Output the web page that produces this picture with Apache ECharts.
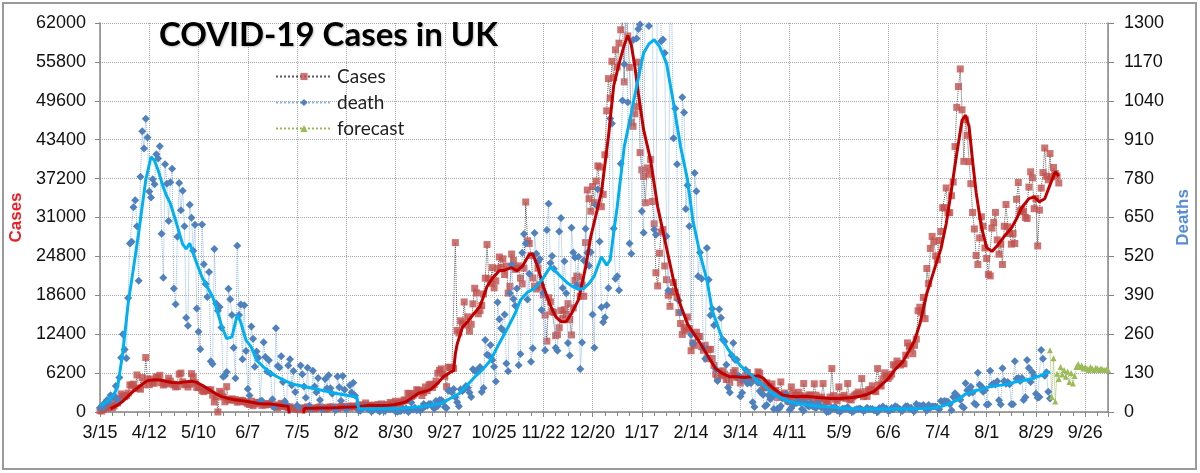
<!DOCTYPE html>
<html>
<head>
<meta charset="utf-8">
<script src="https://cdn.jsdelivr.net/npm/echarts@6/dist/echarts.min.js"></script>
<style>
  html, body {margin: 0; padding: 0; background: #fff;}
  #chart {width: 1200px; height: 473px;}
</style>
</head>
<body>
<div id="chart"></div>
<script>
// x is days since 3/15/2020, one tick label every 28 days
const xTickLabels = ['3/15', '4/12', '5/10', '6/7', '7/5', '8/2', '8/30', '9/27', '10/25', '11/22', '12/20',
  '1/17', '2/14', '3/14', '4/11', '5/9', '6/6', '7/4', '8/1', '8/29', '9/26'];

// daily cases from day 0 (one row = one week, Sun..Sat)
const cases = [
  232, 152, 407, 676, 643, 714, 1035,
  665, 967, 1427, 1452, 2129, 2885, 2546,
  2433, 2619, 3009, 4324, 4244, 4450, 3735,
  5903, 3802, 3634, 5491, 4344, 8681, 5233,
  4342, 5252, 4603, 4617, 5599, 5525, 5850,
  4676, 4301, 4451, 4583, 5386, 4913, 4463,
  4309, 3996, 4076, 6032, 6201, 4806, 4339,
  4406, 3985, 4406, 6111, 5614, 4649, 3896,
  3923, 3877, 3403, 3242, 3446, 3560, 3451,
  3534, 2684, 1600, 2472, 0, 3287, 2959,
  2405, 1625, 4043, 2004, 1887, 2095, 1936,
  1936, 1570, 1653, 1871, 1805, 1650, 1557,
  1326, 1205, 1741, 1003, 1266, 1541, 1425,
  1514, 1056, 1279, 1115, 1218, 1346, 1295,
  1221, 958, 874, 653, 1118, 1380, 890,
  901, 815, 689, 829, -29726, 544, 624,
  516, 352, 581, 630, 512, 642, 820,
  650, 530, 598, 538, 642, 687, 827,
  726, 580, 445, 560, 769, 767, 798,
  747, 685, 581, 763, 846, 880, 744,
  742, 938, 670, 892, 950, 871, 758,
  1062, 816, 1148, 1009, 1441, 1012, 1077,
  713, 1040, 1089, 812, 1182, 1033, 1288,
  1041, 853, 1184, 1048, 1522, 1276, 1108,
  1715, 1406, 1295, 1508, 1735, 1940, 1813,
  2988, 2948, 2460, 2659, 2919, 3539, 3497,
  3330, 2621, 3105, 3991, 3395, 4322, 4422,
  3899, 4368, 4926, 6178, 6634, 6874, 6042,
  5693, 4044, 7143, 7108, 6914, 6968, 27000,
  13000, 12594, 14542, 14162, 17540, 13864, 15166,
  12872, 13972, 17234, 19724, 18980, 15650, 16171,
  16982, 18804, 21331, 26688, 21242, 20530, 23012,
  19790, 20890, 22885, 24701, 23065, 24405, 21915,
  23254, 18950, 20018, 25177, 24141, 22726, 22950,
  23287, 21350, 20412, 22915, 33470, 27301, 26860,
  24962, 21363, 20051, 19609, 22915, 20252, 19875,
  18662, 15450, 11299, 18213, 17555, 16022, 15871,
  12155, 12330, 13430, 16170, 14879, 16298, 15539,
  17272, 14718, 12282, 16578, 20964, 21672, 21502,
  18447, 20263, 18450, 27000, 35383, 34000, 32000,
  35928, 33364, 36804, 39237, 39036, 32725, 34693,
  41000, 48000, 53135, 50023, 55892, 53285, 57725,
  54990, 58784, 60916, 62322, 52618, 68053, 59937,
  54940, 46169, 45533, 47525, 48682, 55761, 41346,
  38598, 37535, 33355, 38905, 37892, 40261, 33552,
  30004, 22195, 20089, 25308, 28680, 29079, 23275,
  21088, 18607, 16840, 19202, 20634, 19114, 18262,
  15845, 14104, 12364, 13494, 13013, 15144, 13308,
  9765, 10972, 10625, 12718, 12057, 12027, 10406,
  9834, 10641, 8489, 9938, 9985, 8523, 7434,
  6035, 5455, 6391, 5766, 6573, 6040, 5177,
  5177, 4712, 5766, 6297, 6609, 5534, 5534,
  4618, 5089, 5294, 5758, 6303, 4802, 5587,
  5312, 5342, 5379, 6397, 6187, 4715, 3862,
  3862, 4654, 4040, 4052, 4479, 3402, 3423,
  2297, 2762, 4790, 2589, 3030, 2729, 1730,
  1730, 3990, 2963, 2491, 2672, 3150, 2596,
  1882, 4530, 2396, 2396, 2729, 2678, 2026,
  4500, 2685, 2064, 2166, 2381, 4530, 1907,
  1671, 1649, 2379, 6920, 2613, 2047, 1770,
  3990, 2357, 2284, 2657, 2193, 4530, 2027,
  1926, 2412, 2696, 2874, 3180, 2829, 5330,
  2439, 3240, 2493, 3542, 3542, 4182, 3398,
  3240, 6920, 4330, 4134, 5274, 6238, 5765,
  5341, 5683, 6048, 7540, 7393, 8125, 7738,
  7490, 7742, 7673, 9055, 11007, 10476, 10321,
  9284, 10633, 11625, 16135, 16703, 15810, 18270,
  14876, 22868, 20479, 26068, 27989, 27125, 24885,
  24248, 27334, 28773, 32548, 32551, 35707, 31772,
  31772, 34471, 36660, 42302, 48553, 51870, 54674,
  48161, 39950, 46558, 44104, 39906, 36389, 31795,
  29173, 24950, 23511, 27734, 31117, 29622, 26144,
  24470, 21952, 21691, 29312, 30215, 31808, 27429,
  25161, 26750, 23510, 29612, 33074, 29520, 28438,
  26750, 28446, 26852, 33904, 36572, 32058, 32253,
  31914, 31015, 30838, 35847, 38281, 37314, 32406,
  34021, 26476, 32181, 35693, 38154, 42076, 37578,
  37011, 41192, 37489, 38975, 38013, 37622, 36500
];

// daily deaths from day 0
const deaths = [
  14, 20, 16, 33, 40, 33, 56,
  48, 54, 87, 41, 115, 181, 260,
  209, 180, 381, 563, 569, 684, 708,
  621, 439, 786, 938, 881, 980, 917,
  737, 717, 778, 761, 861, 847, 888,
  596, 449, 828, 763, 638, 768, 813,
  413, 360, 586, 765, 674, 739, 621,
  315, 288, 693, 649, 539, 626, 346,
  268, 210, 627, 494, 428, 384, 468,
  170, 160, 545, 363, 338, 351, 282,
  118, 121, 134, 412, 377, 324, 215,
  113, 556, 324, 359, 176, 357, 204,
  77, 55, 286, 245, 151, 202, 181,
  36, 38, 233, 184, 135, 173, 128,
  43, 15, 280, 154, 149, 186, 100,
  36, 25, 155, 176, 89, 137, 67,
  22, 16, 155, 126, 85, 48, 148,
  21, 11, 138, 85, 66, 114, 40,
  11, 11, 110, 79, 123, 79, 61,
  14, 7, 119, 83, 38, 120, 74,
  8, 16, 89, 65, 98, 55, 20,
  5, 4, 12, 15, 18, 11, 8,
  3, 4, 12, 16, 6, 2, 18,
  6, 3, 16, 12, 9, 12, 9,
  2, 1, 3, 3, 10, 6, 12,
  2, 3, 32, 8, 14, 6, 9,
  5, 9, 27, 20, 21, 27, 27,
  18, 11, 37, 20, 40, 40, 34,
  17, 13, 71, 71, 66, 77, 49,
  33, 19, 76, 70, 77, 87, 81,
  65, 50, 143, 137, 138, 136, 150,
  67, 80, 241, 191, 189, 224, 174,
  151, 102, 367, 310, 280, 274, 326,
  162, 136, 397, 492, 378, 355, 413,
  156, 194, 532, 595, 563, 376, 462,
  168, 213, 598, 529, 501, 511, 341,
  398, 206, 608, 696, 498, 521, 479,
  215, 205, 603, 648, 414, 504, 397,
  231, 189, 616, 533, 516, 424, 519,
  144, 232, 506, 612, 532, 489, 534,
  326, 215, 691, 744, 570, 350, 300,
  316, 357, 414, 981, 964, 613, 445,
  454, 407, 830, 1041, 1162, 1325, 1035,
  563, 529, 1243, 1564, 1248, 1280, 1295,
  671, 599, 1610, 1820, 1290, 1401, 1348,
  610, 592, 1631, 1725, 1239, 1245, 1200,
  587, 406, 1449, 1322, 915, 1014, 828,
  373, 333, 1052, 1001, 678, 758, 621,
  258, 230, 799, 738, 454, 533, 445,
  215, 178, 548, 442, 323, 345, 290,
  144, 104, 343, 315, 242, 236, 158,
  82, 65, 190, 231, 175, 175, 121,
  52, 64, 110, 141, 95, 101, 96,
  33, 17, 112, 98, 70, 63, 58,
  19, 23, 56, 43, 51, 10, 60,
  10, 11, 20, 45, 53, 60, 34,
  7, 13, 23, 33, 30, 34, 32,
  10, 4, 33, 22, 18, 32, 19,
  17, 13, 29, 23, 15, 16, 15,
  1, 1, 4, 14, 13, 17, 5,
  4, 2, 11, 11, 11, 17, 7,
  4, 1, 7, 9, 10, 12, 8,
  3, 6, 14, 9, 10, 10, 6,
  6, 0, 13, 12, 18, 11, 12,
  4, 5, 13, 9, 19, 17, 12,
  8, 3, 9, 19, 19, 11, 14,
  6, 3, 27, 19, 21, 18, 23,
  11, 5, 23, 14, 18, 18, 18,
  15, 9, 37, 33, 37, 35, 34,
  26, 6, 50, 63, 49, 51, 41,
  19, 14, 96, 73, 63, 84, 65,
  28, 24, 131, 91, 85, 68, 73,
  24, 26, 138, 92, 95, 92, 103,
  39, 25, 146, 104, 94, 100, 93,
  26, 26, 170, 111, 114, 104, 114,
  40, 49, 174, 147, 100, 133, 120,
  61, 48, 50, 207, 178, 121, 133,
  68, 45
];

// forecast deaths, starting on day 540
const forecastStart = 540;
const forecast = [206, 50, 180, 35, 128, 110, 150, 125, 140, 118, 135, 100, 130, 95, 120, 150, 160,
  150, 155, 145, 150, 145, 140, 150, 145, 140, 148, 145, 140, 145, 142, 140, 142, 140];

// 7-day averages: [day, value]
const caseAvg = [
  [6, 550], [10, 1100], [13, 1720], [17, 2800], [20, 3550], [24, 4400], [27, 5000], [31, 5150], [34, 5100],
  [38, 4850], [41, 4700], [45, 4650], [48, 4800], [52, 4900], [55, 4720], [59, 4100], [62, 3560], [66, 2900],
  [69, 2450], [73, 2150], [76, 1980], [80, 1820], [83, 1720], [87, 1520], [90, 1360], [94, 1290], [97, 1260],
  [101, 1100], [104, 1010], [107, 900], [108, 850], [109, -3400], [115, -3700], [116, 540], [118, 580],
  [122, 610], [125, 640], [129, 650], [132, 660], [136, 700], [139, 750], [143, 800], [146, 830], [150, 950],
  [153, 1080], [157, 1050], [160, 1020], [164, 1080], [167, 1150], [171, 1400], [174, 1630], [178, 2400],
  [181, 3000], [185, 3300], [188, 3600], [192, 4600], [195, 5560], [199, 6300], [201, 6600], [202, 9300],
  [203, 10800], [206, 13500], [209, 14400], [212, 15500], [216, 16800], [220, 20000], [223, 21300],
  [227, 22500], [230, 22600], [234, 23000], [237, 22500], [240, 23200], [244, 25100], [246, 25200],
  [249, 23000], [252, 20000], [256, 17000], [259, 15200], [262, 14400], [265, 14400], [268, 15700],
  [272, 17900], [276, 23000], [279, 28000], [282, 31500], [285, 35000], [289, 43900], [292, 52000],
  [295, 55500], [298, 58500], [300, 60000], [302, 58500], [304, 55100], [306, 50800], [309, 45000],
  [313, 40100], [317, 32700], [321, 27500], [326, 21000], [330, 17000], [334, 14000], [338, 12300],
  [342, 10600], [346, 8700], [350, 6900], [354, 6100], [358, 5600], [362, 5600], [366, 5500], [370, 5600],
  [374, 5800], [377, 5400], [380, 4500], [384, 3500], [388, 2700], [392, 2500], [396, 2450], [400, 2500],
  [404, 2450], [408, 2300], [412, 2250], [416, 2150], [420, 2150], [424, 2250], [428, 2300], [432, 2500],
  [436, 2800], [440, 3300], [444, 4300], [448, 5300], [452, 6800], [456, 7900], [460, 9800], [463, 11400],
  [466, 14000], [470, 18900], [474, 22500], [478, 26000], [481, 30000], [484, 35500], [487, 41200],
  [490, 46500], [492, 47300], [494, 45500], [496, 40000], [498, 35000], [501, 29500], [504, 26200],
  [507, 25600], [510, 26500], [514, 28000], [518, 29300], [521, 30800], [524, 32600], [528, 34000],
  [531, 34300], [534, 33500], [537, 34000], [540, 36200], [543, 38300], [545, 37600]
];

const deathAvg = [
  [0, 20], [4, 35], [8, 60], [10, 84], [13, 200], [16, 363], [19, 480], [22, 600], [26, 775], [29, 853],
  [31, 840], [33, 809], [36, 750], [38, 720], [40, 697], [43, 640], [45, 600], [47, 560], [49, 545],
  [51, 564], [53, 530], [55, 497], [58, 450], [61, 418], [64, 385], [66, 351], [69, 290], [72, 245],
  [75, 251], [78, 325], [80, 300], [83, 240], [86, 217], [89, 173], [93, 150], [97, 130], [101, 117],
  [105, 105], [109, 95], [112, 90], [116, 85], [120, 80], [124, 75], [128, 70], [132, 65], [136, 60],
  [140, 56], [144, 52], [146, 50], [147, 12], [150, 11], [155, 10], [160, 11], [165, 11], [170, 12],
  [175, 14], [180, 16], [185, 20], [190, 25], [194, 28], [199, 45], [204, 61], [208, 85], [213, 117],
  [218, 145], [222, 173], [227, 230], [232, 284], [236, 330], [239, 374], [243, 400], [247, 413],
  [251, 440], [256, 485], [259, 470], [262, 452], [266, 430], [269, 418], [272, 410], [275, 413],
  [278, 430], [281, 455], [285, 519], [288, 491], [290, 508], [292, 600], [294, 686], [298, 887],
  [302, 999], [305, 1088], [309, 1200], [312, 1230], [315, 1244], [318, 1222], [322, 1166], [326, 1032],
  [330, 887], [334, 775], [337, 641], [341, 530], [345, 441], [348, 340], [351, 290], [354, 240],
  [357, 210], [360, 184], [364, 155], [367, 140], [370, 125], [373, 106], [377, 90], [380, 73], [384, 55],
  [388, 45], [392, 35], [397, 28], [402, 24], [407, 20], [412, 18], [416, 17], [420, 14], [425, 12],
  [430, 11], [440, 10], [450, 10], [460, 11], [468, 12], [474, 13], [478, 18], [483, 28], [488, 42],
  [492, 60], [497, 70], [502, 78], [506, 85], [511, 89], [516, 93], [520, 100], [525, 105], [530, 112],
  [534, 120], [537, 128], [540, 134]
];

const casesData = cases.map((v, i) => [i, v]);
const deathsData = deaths.map((v, i) => [i, v]);
const forecastData = forecast.map((v, i) => [forecastStart + i, v]);

const chart = echarts.init(document.getElementById('chart'));
const axisGray = '#868686';
const gridLine = {show: true, lineStyle: {color: '#a6a6a6', type: 'dotted', width: 1}};
const labelFont = {fontFamily: 'Liberation Sans', fontSize: 18, color: '#111'};

chart.setOption({
  animation: false,
  backgroundColor: '#fff',
  title: {
    text: 'COVID-19 Cases in UK',
    left: 154,
    top: 14,
    textStyle: {
      fontFamily: 'Lato', fontWeight: 'bold', fontSize: 33, color: '#000',
      textShadowColor: 'rgba(0,0,0,0.25)', textShadowBlur: 2, textShadowOffsetX: 1, textShadowOffsetY: 1
    }
  },
  legend: {
    data: ['Cases', 'death', 'forecast'],
    orient: 'vertical',
    left: 270,
    top: 62,
    itemWidth: 56,
    itemHeight: 9,
    itemGap: 7,
    textStyle: {fontFamily: 'Lato', fontSize: 19, color: '#1f1f1f'}
  },
  graphic: [{
    type: 'rect',
    shape: {x: 3, y: 3, width: 1193, height: 466},
    style: {fill: 'none', stroke: '#9a9a9a', lineWidth: 2},
    silent: true
  }],
  grid: {left: 100, right: 78, top: 23, bottom: 61},
  xAxis: {
    type: 'value',
    min: 0,
    max: 573,
    interval: 28,
    axisLine: {lineStyle: {color: axisGray, width: 1.5}},
    axisTick: {length: 5, lineStyle: {color: axisGray}},
    minorTick: {show: true, splitNumber: 4, length: 4, lineStyle: {color: axisGray}},
    splitLine: gridLine,
    axisLabel: Object.assign({
      showMaxLabel: false,
      margin: 12,
      formatter: v => xTickLabels[Math.round(v / 28)] || ''
    }, labelFont)
  },
  yAxis: [{
    type: 'value',
    min: 0,
    max: 62000,
    interval: 6200,
    name: 'Cases',
    nameLocation: 'middle',
    nameGap: 68,
    nameRotate: 90,
    nameTextStyle: {color: '#ee1c24', fontFamily: 'Liberation Sans', fontWeight: 'bold', fontSize: 17},
    axisLine: {show: true, lineStyle: {color: axisGray, width: 1.5}},
    axisTick: {show: true, length: 5, lineStyle: {color: axisGray}},
    splitLine: gridLine,
    axisLabel: Object.assign({margin: 14, formatter: v => String(v)}, labelFont)
  }, {
    type: 'value',
    min: 0,
    max: 1300,
    interval: 130,
    name: 'Deaths',
    nameLocation: 'middle',
    nameGap: 52,
    nameRotate: 90,
    nameTextStyle: {color: '#558ed5', fontFamily: 'Liberation Sans', fontWeight: 'bold', fontSize: 17},
    axisLine: {show: true, lineStyle: {color: axisGray, width: 1.5}},
    axisTick: {show: true, length: 6, lineStyle: {color: axisGray}},
    splitLine: {show: false},
    axisLabel: Object.assign({margin: 16, formatter: v => String(v)}, labelFont)
  }],
  series: [{
    name: 'Cases',
    type: 'line',
    data: casesData,
    showAllSymbol: true,
    symbol: 'rect',
    symbolSize: 7,
    lineStyle: {type: 'dotted', color: '#595959', width: 1},
    itemStyle: {color: '#c0504d', opacity: 0.8},
    z: 2
  }, {
    name: 'death',
    type: 'line',
    yAxisIndex: 1,
    data: deathsData,
    showAllSymbol: true,
    symbol: 'diamond',
    symbolSize: 8,
    lineStyle: {type: 'dotted', color: '#8eb4e3', width: 1},
    itemStyle: {color: '#4f81bd'},
    z: 3
  }, {
    name: 'forecast',
    type: 'line',
    yAxisIndex: 1,
    data: forecastData,
    showAllSymbol: true,
    symbol: 'triangle',
    symbolSize: 6,
    lineStyle: {type: 'dotted', color: '#9bbb59', width: 1},
    itemStyle: {color: '#9bbb59'},
    z: 3
  }, {
    name: 'cases avg',
    type: 'line',
    data: caseAvg,
    symbol: 'none',
    lineStyle: {color: '#c00000', width: 3},
    z: 4
  }, {
    name: 'death avg',
    type: 'line',
    yAxisIndex: 1,
    data: deathAvg,
    symbol: 'none',
    lineStyle: {color: '#00b0f0', width: 3},
    z: 5
  }]
});
</script>
</body>
</html>
